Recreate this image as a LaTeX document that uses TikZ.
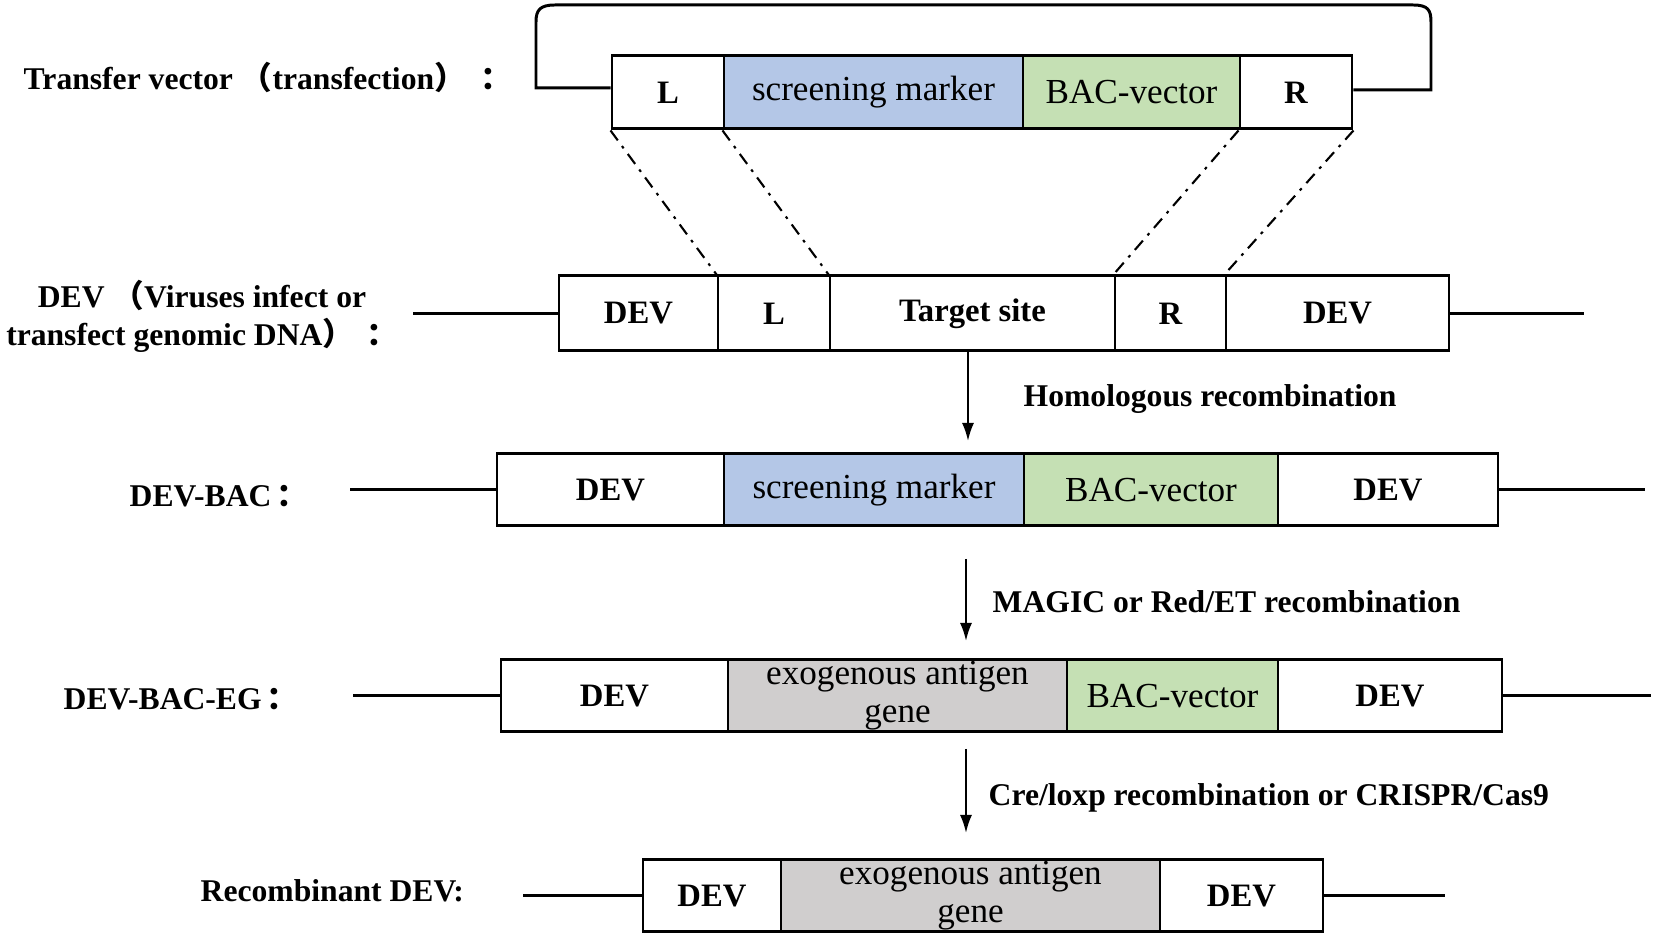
\documentclass[tikz,border=0pt]{standalone}
\usepackage{fontspec}
\setmainfont{Liberation Serif}
\newfontfamily\cjk{Noto Sans CJK SC}
\usetikzlibrary{arrows.meta}
\definecolor{markblue}{HTML}{B4C7E7}
\definecolor{bacgreen}{HTML}{C5E0B4}
\definecolor{genegray}{HTML}{D0CECE}
\newcommand\fw[1]{{\cjk #1}}
\begin{document}
\begin{tikzpicture}[x=0.1mm,y=-0.1mm,
  cell/.style={draw,line width=0.85pt,inner sep=0pt,minimum height=7.2mm,font=\fontsize{9.3}{10}\selectfont\bfseries},
  soft/.style={font=\fontsize{10}{10.8}\selectfont,align=center},
  lab/.style={inner sep=0pt,font=\fontsize{9}{10.8}\selectfont\bfseries},
  arr/.style={draw,line width=0.6pt,-{Latex[length=1.8mm,width=1.2mm]}},
  dd/.style={draw,line width=0.6pt,dash pattern=on 3.5pt off 2pt on 0.8pt off 2pt}]
\useasboundingbox (0,0) rectangle (1654,944);
% transfer vector
\node[cell,minimum height=7.3mm,minimum width=11.2mm] (tL) at (668,92.5) {L};
\node[cell,soft,minimum height=7.3mm,fill=markblue,minimum width=29.9mm] (tS) at (873.5,92.5) {screening marker};
\node[cell,soft,minimum height=7.3mm,fill=bacgreen,minimum width=21.7mm] (tB) at (1131.5,92.5) {BAC-vector};
\node[cell,minimum height=7.3mm,minimum width=11.2mm] (tR) at (1296,92.5) {R};
\path[draw,line width=0.85pt] (tL.west |- 0,88) -- (536,88) -- (536,22) .. controls (536,10) and (540,5) .. (555,5)
  -- (1413,5) .. controls (1428,5) and (1431,10) .. (1431,22) -- (1431,90) -- (tR.east |- 0,90);
\node[lab,anchor=west] (tvl) at (23,77) {Transfer vector \fw{（}transfection\fw{）}\hspace{1.5mm}\fw{：}};
% DEV
\node[cell,minimum height=7.5mm,minimum width=15.9mm] (dA) at (638.5,313.5) {DEV};
\node[cell,minimum height=7.5mm,minimum width=11.2mm] (dL) at (774,313.5) {L};
\node[cell,minimum height=7.5mm,minimum width=28.5mm] (dT) at (972.5,313.5) {Target site};
\node[cell,minimum height=7.5mm,minimum width=11.1mm] (dR) at (1170.5,313.5) {R};
\node[cell,minimum height=7.5mm,minimum width=22.3mm] (dB) at (1337.5,313.5) {DEV};
\coordinate (dl) at (413,313.5);
\coordinate (dr) at (1584,313.5);
\path[draw,line width=0.85pt] (dl) -- (dA.west) (dB.east) -- (dr);
\node[lab,align=center] (dvl) at (202,316) {DEV \fw{（}Viruses infect or\\transfect genomic DNA\fw{）}\hspace{1.2mm}\fw{：}};
\path[dd] (tL.south west) -- (dL.north west);
\path[dd] (tS.south west) -- (dT.north west);
\path[dd] (tR.south west) -- (dR.north west);
\path[dd] (tR.south east) -- (dB.north west);
% homologous recombination
\coordinate (h1) at (968,441);
\path[arr] (dT.south -| h1) -- (h1);
\node[lab,anchor=west] (hom) at (1023,399) {Homologous recombination};
% DEV-BAC
\node[cell,minimum width=22.7mm] (bA) at (610.5,490) {DEV};
\node[cell,soft,fill=markblue,minimum width=30mm] (bS) at (874,490) {screening marker};
\node[cell,soft,fill=bacgreen,minimum width=25.4mm] (bB) at (1151,490) {BAC-vector};
\node[cell,minimum width=22mm] (bD) at (1388,490) {DEV};
\coordinate (bl) at (350,490);
\coordinate (br) at (1645,490);
\path[draw,line width=0.85pt] (bl) -- (bA.west) (bD.east) -- (br);
\node[lab,anchor=west] (bvl) at (129,496) {DEV-BAC\hspace{0.5mm}\fw{：}};
% MAGIC
\coordinate (m0) at (966,559);
\coordinate (m1) at (966,641);
\path[arr] (m0) -- (m1);
\node[lab,anchor=west] (mag) at (992,602) {MAGIC or Red/ET recombination};
% DEV-BAC-EG
\node[cell,minimum width=22.7mm] (eA) at (614.5,696) {DEV};
\node[cell,soft,fill=genegray,minimum width=33.9mm] (eG) at (897.5,696) {exogenous antigen\\gene};
\node[cell,soft,fill=bacgreen,minimum width=21.1mm] (eB) at (1172.5,696) {BAC-vector};
\node[cell,minimum width=22.4mm] (eD) at (1390,696) {DEV};
\coordinate (el) at (353,696);
\coordinate (er) at (1651,696);
\path[draw,line width=0.85pt] (el) -- (eA.west) (eD.east) -- (er);
\node[lab,anchor=west] (evl) at (63,699) {DEV-BAC-EG\hspace{0.5mm}\fw{：}};
% Cre/loxp
\coordinate (c0) at (966,749);
\coordinate (c1) at (966,833);
\path[arr] (c0) -- (c1);
\node[lab,anchor=west] (cre) at (988,798) {Cre/loxp recombination or CRISPR/Cas9};
% recombinant DEV
\node[cell,minimum width=13.8mm] (rA) at (712,896) {DEV};
\node[cell,soft,fill=genegray,minimum width=37.9mm] (rG) at (970.5,896) {exogenous antigen\\gene};
\node[cell,minimum width=16.3mm] (rD) at (1241.5,896) {DEV};
\coordinate (rl) at (523,896);
\coordinate (rr) at (1445,896);
\path[draw,line width=0.85pt] (rl) -- (rA.west) (rD.east) -- (rr);
\node[lab,anchor=west] (rvl) at (200,891) {Recombinant DEV:};
\end{tikzpicture}
\end{document}
